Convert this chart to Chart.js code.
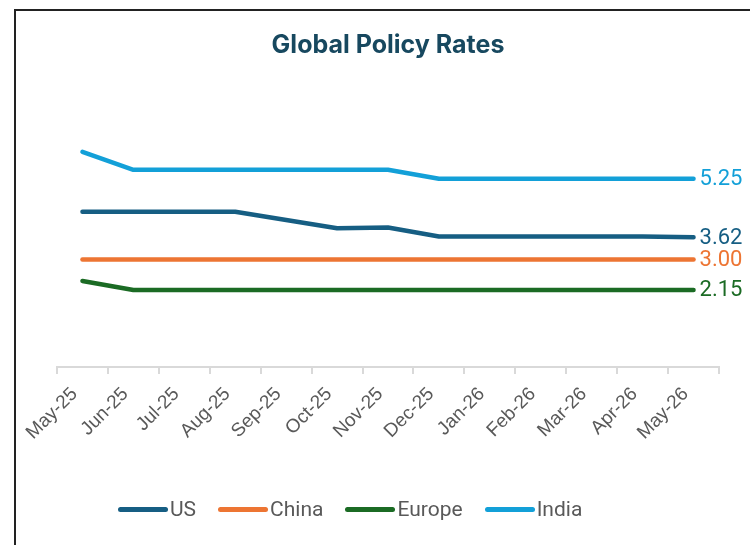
<!DOCTYPE html>
<html>
<head>
<meta charset="utf-8">
<script src="https://cdn.jsdelivr.net/npm/chart.js@4"></script>
<style>
    html, body { margin: 0; padding: 0; background: #fff; overflow: hidden; }
    #wrap { position: relative; width: 750px; height: 545px; }
    #frame {
        position: absolute; left: 14px; top: 9px; right: -10px; bottom: -10px;
        border-left: 2px solid #222; border-top: 2px solid #222;
    }
    #rates { position: absolute; left: 0; top: 0; }
    #legend {
        position: absolute; left: 118px; top: 497px; display: flex; align-items: center;
        font-family: Roboto, sans-serif; font-size: 21px; color: #595959;
    }
    .item { display: flex; align-items: center; margin-right: 22px; }
    .swatch { width: 50px; height: 5px; border-radius: 3px; margin-right: 2px; }
</style>
</head>
<body>
<div id="wrap">
    <div id="frame"></div>
    <canvas id="rates" width="750" height="545"></canvas>
    <div id="legend"></div>
</div>
<script>
const months = ['May-25', 'Jun-25', 'Jul-25', 'Aug-25', 'Sep-25', 'Oct-25', 'Nov-25',
                'Dec-25', 'Jan-26', 'Feb-26', 'Mar-26', 'Apr-26', 'May-26'];
const usRates =     [4.33, 4.33, 4.33, 4.33, 4.10, 3.87, 3.89, 3.64, 3.64, 3.64, 3.64, 3.64, 3.62];
const chinaRates =  [3.00, 3.00, 3.00, 3.00, 3.00, 3.00, 3.00, 3.00, 3.00, 3.00, 3.00, 3.00, 3.00];
const europeRates = [2.40, 2.15, 2.15, 2.15, 2.15, 2.15, 2.15, 2.15, 2.15, 2.15, 2.15, 2.15, 2.15];
const indiaRates =  [6.00, 5.50, 5.50, 5.50, 5.50, 5.50, 5.50, 5.25, 5.25, 5.25, 5.25, 5.25, 5.25];
const seriesNames = ['US', 'China', 'Europe', 'India'];
const seriesColors = ['#165e83', '#ed7533', '#1b6b24', '#13a0d8'];

// value label at the end of each line
const endLabels = {
    id: 'endLabels',
    afterDatasetsDraw(chart) {
        const c = chart.ctx;
        c.save();
        c.font = '22px Roboto, sans-serif';
        c.textBaseline = 'middle';
        c.textAlign = 'left';
        chart.data.datasets.forEach((ds, i) => {
            const pts = chart.getDatasetMeta(i).data;
            const last = pts[pts.length - 1];
            c.fillStyle = ds.borderColor;
            c.fillText(ds.data[ds.data.length - 1].toFixed(2), last.x + 6, last.y + 1);
        });
        c.restore();
    }
};

const allRates = [usRates, chinaRates, europeRates, indiaRates];

new Chart(document.getElementById('rates'), {
    type: 'line',
    data: {
        labels: months,
        datasets: seriesNames.map((name, i) => ({
            label: name,
            data: allRates[i],
            borderColor: seriesColors[i],
            backgroundColor: seriesColors[i],
            borderWidth: 4.5,
            borderCapStyle: 'round',
            borderJoinStyle: 'round',
            pointRadius: 0,
            tension: 0
        }))
    },
    options: {
        responsive: false,
        animation: false,
        layout: { padding: { left: 57, right: 31, top: 0, bottom: 92 } },
        plugins: {
            legend: { display: false },
            tooltip: { enabled: false },
            title: {
                display: true,
                text: 'Global Policy Rates',
                color: '#17485f',
                font: { family: 'Inter, sans-serif', size: 25, weight: 'bold' },
                padding: { top: 30, bottom: 56 }
            }
        },
        scales: {
            x: {
                offset: true,
                grid: {
                    offset: true,
                    drawOnChartArea: false,
                    drawTicks: true,
                    tickLength: 7,
                    color: '#d9d9d9',
                    lineWidth: 2
                },
                border: { display: true, color: '#d9d9d9', width: 2 },
                ticks: {
                    color: '#595959',
                    font: { family: 'Liberation Sans, Arial, sans-serif', size: 19 },
                    minRotation: 45,
                    maxRotation: 45,
                    autoSkip: false,
                    labelOffset: -8,
                    padding: 9
                }
            },
            y: {
                display: false,
                min: 0,
                max: 7
            }
        }
    },
    plugins: [endLabels]
});

const legend = document.getElementById('legend');
seriesNames.forEach((name, i) => {
    const item = document.createElement('div');
    item.className = 'item';
    item.innerHTML = '<span class="swatch" style="background:' + seriesColors[i] + '"></span><span>' + name + '</span>';
    legend.appendChild(item);
});
</script>
</body>
</html>
